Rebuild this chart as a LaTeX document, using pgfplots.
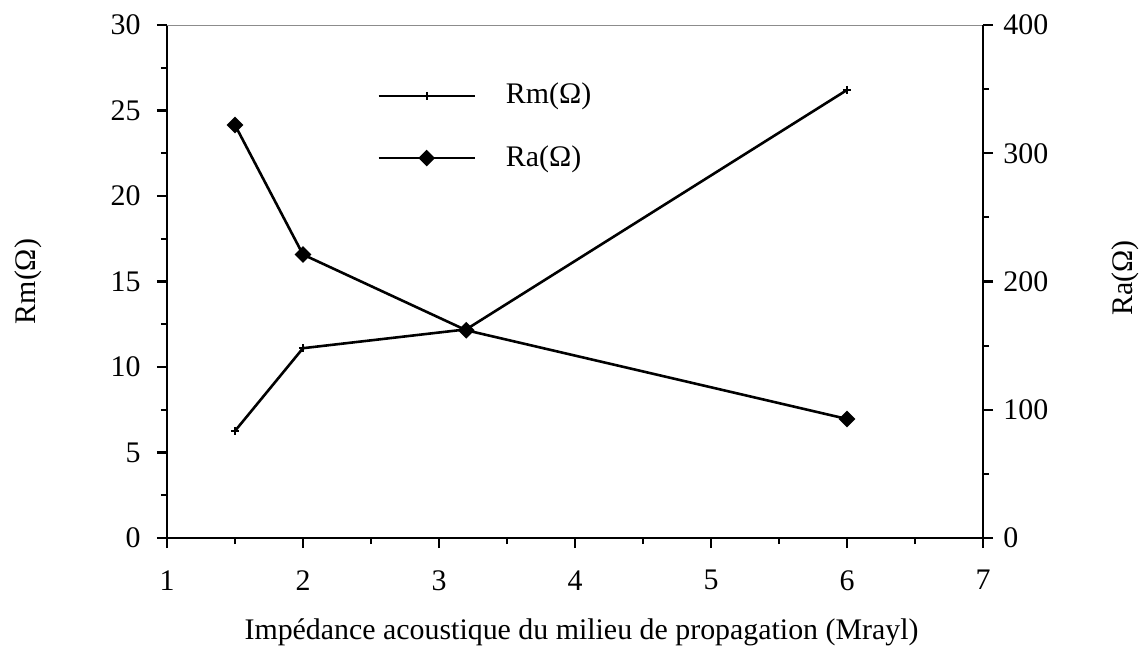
\documentclass[border=0pt]{standalone}
\usepackage{fontspec}
\setmainfont{Liberation Serif}
\usepackage{pgfplots}
\pgfplotsset{compat=1.18}

\begin{document}
\fontsize{15}{18}\selectfont
\begin{tikzpicture}
\useasboundingbox (0,0) rectangle (571.5bp,325bp);
\pgfplotsset{
  common/.style={
    scale only axis,
    width=408bp, height=256.5bp,
    at={(83.5bp,56bp)}, anchor=south west,
    xmin=1, xmax=7,
    tick align=outside,
    major tick length=5bp,
    minor tick length=3bp,
    axis line style={line width=1.3pt},
    every tick/.style={line width=1.1pt, black},
    /pgf/number format/assume math mode=true,
    tick label style={font=\fontsize{15}{18}\selectfont},
    label style={font=\fontsize{15}{18}\selectfont},
    clip=false,
  }
}
\begin{axis}[
  common,
  axis x line*=bottom,
  axis y line*=left,
  ymin=0, ymax=30,
  ytick={0,5,...,30},
  xtick={1,...,7},
  minor x tick num=1,
  minor y tick num=1,
  xticklabel style={yshift=-6bp},
  yticklabel style={xshift=-3bp},
  ylabel={Rm(Ω)},
  ylabel style={at={(axis description cs:-0.170,0.5)}, anchor=center},
  xlabel={Impédance acoustique du milieu de propagation (Mrayl)},
  xlabel style={at={(axis description cs:0.508,-0.183)}, anchor=center},
]
\addplot[black, line width=1.3pt, mark=+, mark size=2bp, mark options={line width=0.9pt}]
  coordinates {(1.5,6.26) (2,11.1) (3.2,12.2) (6,26.2)};
\end{axis}
\begin{axis}[
  common,
  axis x line*=top,
  x axis line style={line width=0.4pt, black!45},
  xtick=\empty,
  axis y line*=right,
  ymin=0, ymax=400,
  ytick={0,100,...,400},
  minor y tick num=1,
  ylabel={Ra(Ω)},
  ylabel style={at={(axis description cs:1.174,0.507)}, anchor=center, rotate=0},
  legend style={draw=none, fill=none, at={(axis description cs:0.25,0.899)},
    anchor=north west, row sep=16.5bp, font=\fontsize{15}{18}\selectfont,
    legend cell align=left, nodes={inner sep=1bp}},
  legend image code/.code={%
    \draw[#1, line width=1.3pt, mark repeat=2, mark phase=2] plot coordinates {(0bp,0bp) (24bp,0bp) (48bp,0bp)};
    \path (62bp,0bp);},
]
\addlegendimage{black, mark=+, mark size=2bp, mark options={line width=0.9pt}}
\addlegendentry{Rm(Ω)}
\addplot[black, line width=1.3pt, mark=square*, mark size=2.3bp, mark options={rotate=45}]
  coordinates {(1.5,322) (2,221) (3.2,162) (6,92.8)};
\addlegendentry{Ra(Ω)}
\end{axis}
\end{tikzpicture}
\end{document}
